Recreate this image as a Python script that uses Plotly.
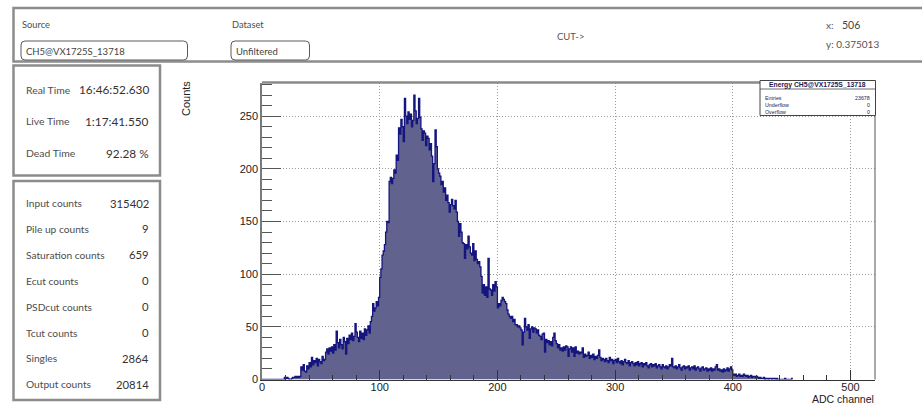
import plotly.graph_objects as go

# ---------------------------------------------------------------- data
# Energy spectrum, one bin per ADC channel (channels 0..450)
counts = [
    0, 0, 0, 0, 0, 0, 0, 0, 0, 0,
    0, 0, 0, 0, 0, 0, 0, 0, 0, 2,
    1, 2, 1, 0, 0, 1, 2, 2, 3, 2,
    3, 2, 3, 12, 9, 14, 8, 7, 13, 10,
    16, 12, 21, 14, 18, 16, 20, 13, 19, 17,
    15, 22, 18, 19, 26, 29, 24, 30, 27, 31,
    25, 33, 28, 46, 35, 30, 38, 33, 29, 40,
    36, 24, 39, 34, 42, 38, 44, 37, 41, 53,
    45, 40, 36, 46, 39, 44, 38, 48, 42, 47,
    51, 44, 55, 60, 72, 65, 68, 74, 70, 78,
    97, 105, 118, 122, 128, 140, 150, 149, 188, 192,
    186, 191, 199, 196, 213, 208, 239, 233, 247, 240,
    226, 267, 250, 243, 254, 247, 252, 240, 246, 270,
    255, 243, 248, 267, 249, 238, 227, 236, 234, 222,
    231, 229, 218, 224, 212, 188, 205, 237, 221, 200,
    196, 193, 185, 188, 178, 182, 170, 175, 168, 159,
    166, 171, 165, 162, 170, 159, 150, 136, 148, 140,
    130, 129, 115, 128, 124, 136, 126, 120, 118, 129,
    113, 122, 114, 110, 112, 107, 98, 82, 90, 80,
    88, 78, 115, 86, 85, 80, 90, 84, 93, 88,
    68, 72, 70, 75, 78, 76, 74, 72, 66, 62,
    60, 58, 60, 55, 57, 52, 52, 50, 51, 49,
    47, 33, 45, 58, 50, 47, 52, 39, 48, 50,
    45, 49, 48, 44, 47, 42, 41, 38, 43, 44,
    26, 38, 35, 37, 33, 36, 32, 40, 44, 37,
    34, 30, 33, 28, 30, 27, 31, 28, 32, 31,
    22, 29, 31, 26, 30, 22, 31, 25, 27, 24,
    26, 25, 30, 21, 24, 22, 23, 26, 20, 23,
    21, 24, 19, 22, 20, 23, 28, 21, 18, 20,
    19, 17, 20, 18, 16, 21, 18, 19, 15, 18,
    19, 16, 20, 17, 15, 18, 14, 17, 19, 16,
    15, 18, 13, 16, 17, 15, 13, 16, 14, 17,
    13, 15, 16, 12, 15, 14, 16, 13, 11, 14,
    15, 12, 14, 13, 15, 11, 13, 14, 12, 10,
    14, 12, 11, 13, 10, 12, 14, 13, 20, 12,
    11, 13, 10, 12, 14, 11, 9, 12, 13, 10,
    12, 11, 13, 9, 11, 12, 10, 13, 9, 11,
    12, 10, 8, 11, 12, 9, 10, 11, 8, 10,
    9, 11, 8, 10, 9, 12, 14, 9, 10, 8,
    9, 7, 10, 8, 9, 11, 8, 10, 12, 9,
    5, 4, 5, 3, 4, 5, 3, 4, 3, 5,
    4, 3, 4, 2, 3, 4, 2, 3, 3, 2,
    3, 2, 1, 2, 1, 1, 2, 0, 1, 1,
    0, 1, 1, 0, 1, 1, 0, 1, 0, 0,
    0, 0, 0, 0, 1, 0, 0, 0, 0, 0,
    1,
]
channels = list(range(len(counts)))

X_TICKS = [0, 100, 200, 300, 400, 500]
Y_TICKS = [0, 50, 100, 150, 200, 250]
X_RANGE = [0, 520.8]
Y_RANGE = [0, 282]

SOURCE = "CH5@VX1725S_13718"
DATASET = "Unfiltered"
CURSOR_X = "506"
CURSOR_Y = "0.375013"

TIME_LABELS = ["Real Time", "Live Time", "Dead Time"]
TIME_VALUES = ["16:46:52.630", "1:17:41.550", "92.28 %"]

COUNT_LABELS = ["Input counts", "Pile up counts", "Saturation counts", "Ecut counts",
                "PSDcut counts", "Tcut counts", "Singles", "Output counts"]
COUNT_VALUES = ["315402", "9", "659", "0", "0", "0", "2864", "20814"]

STAT_TITLE = "Energy CH5@VX1725S_13718"
STAT_LABELS = ["Entries", "Underflow", "Overflow"]
STAT_VALUES = ["23678", "0", "0"]

# ---------------------------------------------------------------- helpers
W, H = 922, 404


def X(p):
    return p / W


def Y(p):
    return 1 - p / H


UI_FONT = "Lato"
PLOT_FONT = "Liberation Sans"

annotations = []
shapes = []


def text(s, x, y, size, color="#4d4d4d", anchor="left", family=UI_FONT, angle=0):
    annotations.append(dict(
        text=s, x=X(x), y=Y(y), xref="paper", yref="paper",
        xanchor=anchor, yanchor="middle", showarrow=False, textangle=angle,
        font=dict(family=family, size=size, color=color), borderpad=0,
    ))


def rect(x0, y0, x1, y1, color="#8c8c8c", width=2.5, fill=None, layer="above"):
    shapes.append(dict(
        type="rect", xref="paper", yref="paper",
        x0=X(x0), x1=X(x1), y0=Y(y0), y1=Y(y1),
        line=dict(color=color, width=width),
        fillcolor=fill or "rgba(0,0,0,0)", layer=layer,
    ))


def line(x0, y0, x1, y1, color, width):
    shapes.append(dict(
        type="line", xref="paper", yref="paper",
        x0=X(x0), x1=X(x1), y0=Y(y0), y1=Y(y1),
        line=dict(color=color, width=width),
    ))


def rounded_box(x0, y0, x1, y1, r=4, color="#5a5a5a"):
    p = (f"M {X(x0 + r)},{Y(y0)} L {X(x1 - r)},{Y(y0)} "
         f"Q {X(x1)},{Y(y0)} {X(x1)},{Y(y0 + r)} L {X(x1)},{Y(y1 - r)} "
         f"Q {X(x1)},{Y(y1)} {X(x1 - r)},{Y(y1)} L {X(x0 + r)},{Y(y1)} "
         f"Q {X(x0)},{Y(y1)} {X(x0)},{Y(y1 - r)} L {X(x0)},{Y(y0 + r)} "
         f"Q {X(x0)},{Y(y0)} {X(x0 + r)},{Y(y0)} Z")
    shapes.append(dict(type="path", xref="paper", yref="paper", path=p,
                       line=dict(color=color, width=1), fillcolor="white"))


# ---------------------------------------------------------------- histogram
fig = go.Figure()
fig.add_trace(go.Scatter(
    x=channels + [channels[-1] + 1],
    y=counts + [counts[-1]],
    mode="lines",
    line=dict(shape="hv", color="#15157f", width=1.3),
    fill="tozeroy",
    fillcolor="#62628f",
    hoverinfo="skip",
))

# ---------------------------------------------------------------- control panels
# top bar
rect(13.5, 8, 935, 61.5)
text("Source", 21, 24, 9.3)
text("Dataset", 231, 24, 9.3)
rounded_box(21, 41, 187.5, 60)
rounded_box(231, 41, 309.5, 60)
text(SOURCE, 25, 51, 9.5, "#444")
text(DATASET, 235, 51, 9.5, "#444")
text("CUT->", 570, 37, 9.5, "#555", anchor="center")
text("x:", 825, 25, 10, "#555")
text(CURSOR_X, 841, 25, 10.5, "#444")
text("y: " + CURSOR_Y, 825, 44, 10, "#555")

# timing panel
rect(13.5, 65.5, 160, 175.5)
for i, (lab, val) in enumerate(zip(TIME_LABELS, TIME_VALUES)):
    yy = 90 + i * 31.5
    text(lab, 25, yy, 10.4)
    text(val, 149.5, yy, 11.8, "#333", anchor="right")

# counters panel
rect(13.5, 181, 160, 400)
for i, (lab, val) in enumerate(zip(COUNT_LABELS, COUNT_VALUES)):
    yy = 203 + i * 25.9
    text(lab, 25, yy, 10.2)
    text(val, 149.5, yy, 11.3, "#333", anchor="right")

# ---------------------------------------------------------------- frame + stats box
line(262, 82.5, 875.5, 82.5, "#8a8a8a", 2.5)
line(875, 82.5, 875, 379.5, "#555", 1)

rect(760, 80.5, 875.5, 115.5, color="#444", width=1, fill="white")
line(760, 89, 875.5, 89, "#444", 0.8)
text("<b>" + STAT_TITLE + "</b>", 817.5, 84.8, 6.8, "#1b1b55", anchor="center",
     family=PLOT_FONT)
for i, (lab, val) in enumerate(zip(STAT_LABELS, STAT_VALUES)):
    yy = 97.5 + i * 7
    text(lab, 764, yy, 5.3, "#1b1b55", family=PLOT_FONT)
    text(val, 871, yy, 5.3, "#1b1b55", anchor="right", family=PLOT_FONT)

# axis titles
text("Counts", 186, 99, 11, "#222", anchor="center", family=PLOT_FONT, angle=-90)
text("ADC channel", 875, 398.5, 10.5, "#222", anchor="right", family=PLOT_FONT)

# ---------------------------------------------------------------- axes
grid = dict(showgrid=True, gridcolor="#9a9a9a", gridwidth=1, griddash="1px,2px")
fig.update_layout(
    width=W, height=H,
    margin=dict(l=0, r=0, t=0, b=0),
    paper_bgcolor="white", plot_bgcolor="white",
    showlegend=False,
    xaxis=dict(
        domain=[X(262), X(875)], range=X_RANGE,
        tickmode="array", tickvals=X_TICKS, ticktext=[str(v) for v in X_TICKS],
        ticks="inside", ticklen=10, tickwidth=1, tickcolor="#333",
        minor=dict(tickmode="linear", tick0=0, dtick=20, ticks="inside",
                   ticklen=5, tickwidth=1, tickcolor="#333", showgrid=False),
        showline=True, linecolor="#333", linewidth=1, zeroline=False,
        tickfont=dict(family=PLOT_FONT, size=11, color="#222"),
        ticklabelstandoff=-3,
        automargin=False, fixedrange=True, **grid,
    ),
    yaxis=dict(
        domain=[Y(379.5), Y(82.5)], range=Y_RANGE,
        tickmode="array", tickvals=Y_TICKS, ticktext=[str(v) for v in Y_TICKS],
        ticks="inside", ticklen=19, tickwidth=1, tickcolor="#555",
        minor=dict(tickmode="linear", tick0=0, dtick=10, ticks="inside",
                   ticklen=10, tickwidth=1, tickcolor="#555", showgrid=False),
        showline=True, linecolor="#7a7a7a", linewidth=1.5, zeroline=False,
        tickfont=dict(family=PLOT_FONT, size=11, color="#222"),
        automargin=False, fixedrange=True, **grid,
    ),
    shapes=shapes,
    annotations=annotations,
)

fig.write_html("out.html", config={"displayModeBar": False})
